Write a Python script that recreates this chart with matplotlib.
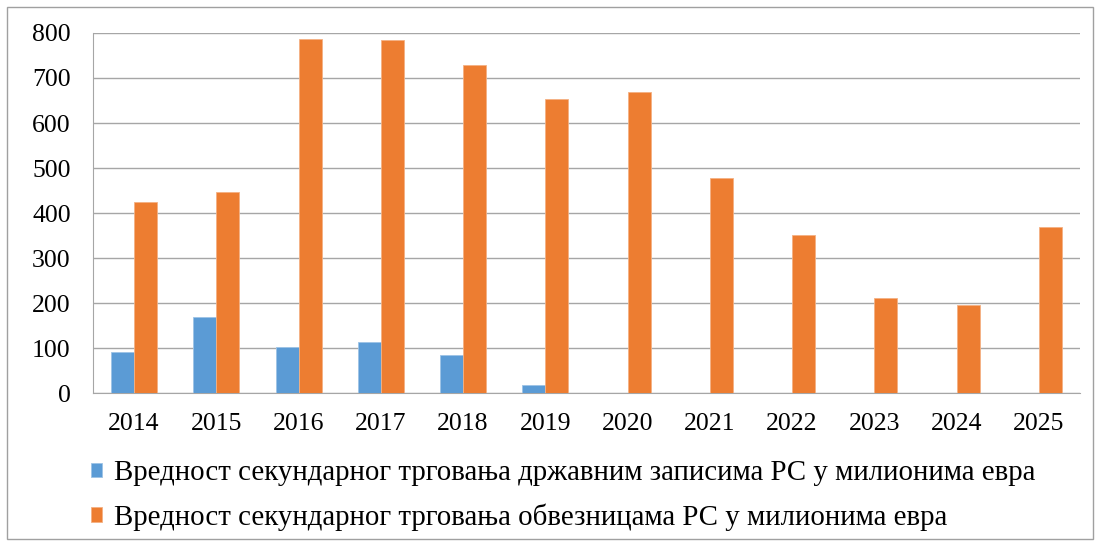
import matplotlib
matplotlib.use("Agg")
import matplotlib.pyplot as plt
from matplotlib.patches import Rectangle
import numpy as np

years = ["2014", "2015", "2016", "2017", "2018", "2019", "2020", "2021", "2022", "2023", "2024", "2025"]
bills = [92, 169, 102, 114, 84, 18, 0, 0, 0, 0, 0, 0]
bonds = [424, 447, 787, 785, 728, 653, 670, 477, 351, 212, 196, 370]
labels = ["Вредност секундарног трговања државним записима РС у милионима евра",
          "Вредност секундарног трговања обвезницама РС у милионима евра"]
yticks = [0, 100, 200, 300, 400, 500, 600, 700, 800]

blue = "#5B9BD5"
orange = "#ED7D31"
font = ["Liberation Serif", "DejaVu Serif"]

fig = plt.figure(figsize=(11.06, 5.46), dpi=100)
fig.patches.append(Rectangle((0.006, 0.012), 0.982, 0.975, transform=fig.transFigure,
                             fill=False, edgecolor="#A0A0A0", linewidth=1.0))
ax = fig.add_axes([0.084, 0.28, 0.8925, 0.6596])

x = np.arange(len(years))
w = 0.28
ax.bar(x - w / 2, bills, w, color=blue, edgecolor="#9DC3E6", linewidth=0.6, label=labels[0], zorder=3)
ax.bar(x + w / 2, bonds, w, color=orange, edgecolor="#F4B183", linewidth=0.6, label=labels[1], zorder=3)

ax.set_xlim(-0.5, len(years) - 0.5)
ax.set_ylim(0, 800)
ax.set_yticks(yticks)
ax.set_yticklabels([str(v) for v in yticks], fontfamily=font, fontsize=18.5)
ax.set_xticks(x)
ax.set_xticklabels(years, fontfamily=font, fontsize=18.5)
ax.tick_params(axis="x", length=0, pad=14)
ax.tick_params(axis="y", length=0, pad=16)
ax.yaxis.grid(True, color="#A6A6A6", linewidth=1.0, zorder=0)
ax.set_axisbelow(True)
for s in ["top", "right"]:
    ax.spines[s].set_visible(False)
ax.spines["left"].set_color("#A6A6A6")
ax.spines["bottom"].set_color("#A6A6A6")

handles, labs = ax.get_legend_handles_labels()
leg = fig.legend(handles, labs, loc="upper left", bbox_to_anchor=(0.082, 0.157),
                 ncol=1, frameon=False, prop={"family": font, "size": 20.8},
                 handlelength=0.4, handleheight=0.4, handletextpad=0.42, labelspacing=0.6,
                 borderaxespad=0, borderpad=0)

fig.savefig("out.png", dpi=100)
